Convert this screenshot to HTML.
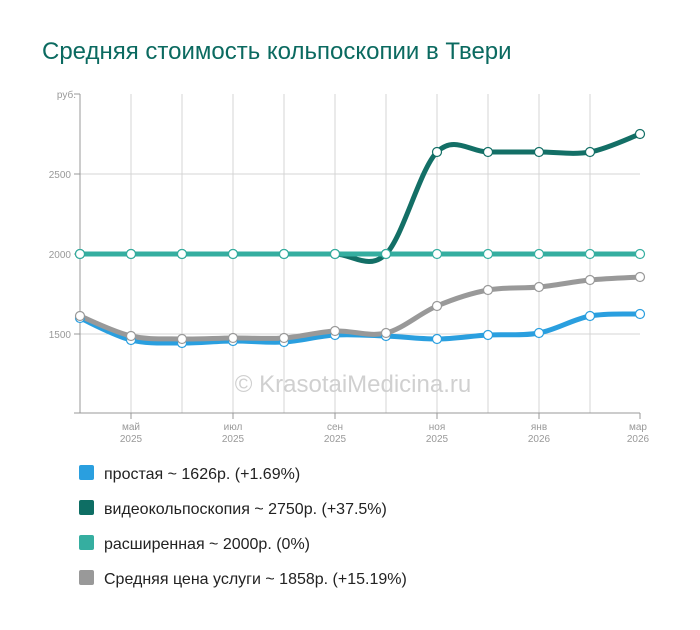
<!DOCTYPE html>
<html><head><meta charset="utf-8"><style>
body{margin:0;background:#fff;width:700px;height:625px;overflow:hidden;font-family:"Liberation Sans","DejaVu Sans",sans-serif}
</style></head><body>
<svg width="700" height="625" xmlns="http://www.w3.org/2000/svg" font-family="Liberation Sans, sans-serif">
<text x="42" y="59" font-size="24" fill="#0b6a60">Средняя стоимость кольпоскопии в Твери</text>
<g stroke="#d4d4d4" stroke-width="1">
<line x1="131" y1="94" x2="131" y2="413"/><line x1="182" y1="94" x2="182" y2="413"/><line x1="233" y1="94" x2="233" y2="413"/><line x1="284" y1="94" x2="284" y2="413"/><line x1="335" y1="94" x2="335" y2="413"/><line x1="386" y1="94" x2="386" y2="413"/><line x1="437" y1="94" x2="437" y2="413"/><line x1="488" y1="94" x2="488" y2="413"/><line x1="539" y1="94" x2="539" y2="413"/><line x1="590" y1="94" x2="590" y2="413"/>
<line x1="80" y1="174" x2="640" y2="174"/><line x1="80" y1="254" x2="640" y2="254"/><line x1="80" y1="334" x2="640" y2="334"/>
</g>
<g stroke="#999" stroke-width="1">
<line x1="80" y1="94" x2="80" y2="413"/><line x1="74" y1="413" x2="640" y2="413"/><line x1="74" y1="94" x2="80" y2="94"/>
<line x1="74" y1="174" x2="80" y2="174"/><line x1="74" y1="254" x2="80" y2="254"/><line x1="74" y1="334" x2="80" y2="334"/>
<line x1="131" y1="413" x2="131" y2="419"/><line x1="233" y1="413" x2="233" y2="419"/><line x1="335" y1="413" x2="335" y2="419"/><line x1="437" y1="413" x2="437" y2="419"/><line x1="539" y1="413" x2="539" y2="419"/><line x1="640" y1="413" x2="640" y2="419"/>
</g>
<g font-size="10" fill="#999" text-anchor="end">
<text x="76" y="98">руб.</text><text x="71" y="178">2500</text><text x="71" y="258">2000</text><text x="71" y="338">1500</text>
</g>
<g font-size="10" fill="#999" text-anchor="middle">
<text x="131" y="430">май</text><text x="131" y="442">2025</text>
<text x="233" y="430">июл</text><text x="233" y="442">2025</text>
<text x="335" y="430">сен</text><text x="335" y="442">2025</text>
<text x="437" y="430">ноя</text><text x="437" y="442">2025</text>
<text x="539" y="430">янв</text><text x="539" y="442">2026</text>
<text x="638" y="430">мар</text><text x="638" y="442">2026</text>
</g>
<text x="353" y="392" font-size="24" fill="#d0d0d0" text-anchor="middle">© KrasotaiMedicina.ru</text>
<g id="series"></g>
<g font-size="16" fill="#222">
<rect x="79" y="465" width="15" height="15" rx="2" fill="#2a9fdf"/><text x="104" y="479">простая ~ 1626р. (+1.69%)</text>
<rect x="79" y="500" width="15" height="15" rx="2" fill="#0e6e64"/><text x="104" y="514">видеокольпоскопия ~ 2750р. (+37.5%)</text>
<rect x="79" y="535" width="15" height="15" rx="2" fill="#35aea0"/><text x="104" y="549">расширенная ~ 2000р. (0%)</text>
<rect x="79" y="570" width="15" height="15" rx="2" fill="#999"/><text x="104" y="584">Средняя цена услуги ~ 1858р. (+15.19%)</text>
</g>
</svg>
<script>
var X=[80,131,182,233,284,335,386,437,488,539,590,640];
var S=[
 ["#136f66",[254,254,254,254,254,254,254,152,152,152,152,134]],
 ["#35aea0",[254,254,254,254,254,254,254,254,254,254,254,254]],
 ["#2a9fdf",[318,340,343,341,342,335,336,339,335,333,316,314]],
 ["#999999",[316,336,339,338,338,331,333,306,290,287,280,277]]
];
var g=document.getElementById("series"),h="";
S.forEach(function(s){
 var y=s[1],d="M"+X[0]+","+y[0];
 for(var i=0;i<11;i++){
  var p0=i>0?i-1:0,p3=i<10?i+2:11;
  var c1x=X[i]+(X[i+1]-X[p0])/6,c1y=y[i]+(y[i+1]-y[p0])/6;
  var c2x=X[i+1]-(X[p3]-X[i])/6,c2y=y[i+1]-(y[p3]-y[i])/6;
  d+=" C"+c1x+","+c1y+" "+c2x+","+c2y+" "+X[i+1]+","+y[i+1];
 }
 h+='<path d="'+d+'" fill="none" stroke="'+s[0]+'" stroke-width="5" stroke-linecap="round"/>';
});
S.forEach(function(s){
 for(var i=0;i<12;i++)h+='<circle cx="'+X[i]+'" cy="'+s[1][i]+'" r="4.5" fill="#fff" stroke="'+s[0]+'" stroke-width="1.2"/>';
});
g.innerHTML=h;
</script>
</body></html>
